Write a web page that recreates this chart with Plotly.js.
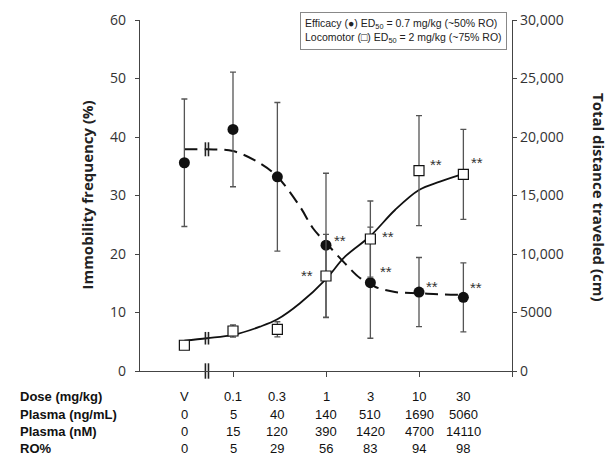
<!DOCTYPE html>
<html>
<head>
<meta charset="utf-8">
<script src="https://cdn.plot.ly/plotly-3.0.1.min.js"></script>
<style>html,body{margin:0;padding:0;background:#fff;}#chart{width:609px;height:460px;}</style>
</head>
<body>
<div id="chart"></div>
<script>
// ---- data ----
var doseLabels = ['V', '0.1', '0.3', '1', '3', '10', '30'];
var dosePos = [0.03, 0.1, 0.3, 1, 3, 10, 30];          // V plotted left of the axis break
var plasmaNgMl = ['0', '5', '40', '140', '510', '1690', '5060'];
var plasmaNM = ['0', '15', '120', '390', '1420', '4700', '14110'];
var roPct = ['0', '5', '29', '56', '83', '94', '98'];

var effMean = [35.6, 41.3, 33.2, 21.5, 15.1, 13.5, 12.6];   // immobility %
var effErr = [10.9, 9.8, 12.7, 12.3, 9.5, 5.9, 5.9];
var effSig = ['', '', '', '**', '**', '**', '**'];

var locoMean = [2200, 3420, 3560, 8120, 11280, 17120, 16810]; // distance cm
var locoErr = [250, 520, 650, 3560, 3250, 4700, 3850];
var locoSig = ['', '', '', '**', '**', '**', '**'];

var effFitDose = [0.03, 0.0525, 0.1, 0.195, 0.3, 0.525, 0.724, 1, 1.6, 2.32, 3, 3.37, 5.52, 10, 16.8, 30];
var effFit = [37.9, 37.9, 37.6, 35.5, 33.2, 28.1, 24.4, 21.9, 18.4, 15.9, 15.0, 14.4, 13.5, 13.3, 13.1, 13.0];
var locoFitDose = [0.03, 0.0525, 0.1, 0.195, 0.3, 0.525, 1, 1.6, 3, 5.52, 10, 16.8, 30];
var locoFit = [2590, 2800, 3080, 3790, 4420, 5790, 7860, 9770, 11540, 13760, 15470, 16180, 16840];

var breakDose = [0.0505, 0.0545];
var rightTicks = [0, 5000, 10000, 15000, 20000, 25000, 30000];
var rightTickText = ['0', '5000', '10,000', '15,000', '20,000', '25,000', '30,000'];

// ---- traces ----
var axisColor = '#444';
var traces = [
  {x: effFitDose, y: effFit, type: 'scatter', mode: 'lines', yaxis: 'y',
   line: {color: '#111', width: 2, dash: '13px,7px', shape: 'spline', smoothing: 1}, hoverinfo: 'skip'},
  {x: locoFitDose, y: locoFit, type: 'scatter', mode: 'lines', yaxis: 'y2',
   line: {color: '#111', width: 1.8, shape: 'spline', smoothing: 1}, hoverinfo: 'skip'},
  {x: dosePos, y: effMean, type: 'scatter', mode: 'markers', yaxis: 'y',
   error_y: {type: 'data', array: effErr, visible: true, color: '#555', thickness: 1.3, width: 3},
   marker: {symbol: 'circle', size: 11, color: '#111'}},
  {x: dosePos, y: locoMean, type: 'scatter', mode: 'markers', yaxis: 'y2',
   error_y: {type: 'data', array: locoErr, visible: true, color: '#555', thickness: 1.3, width: 3},
   marker: {symbol: 'square', size: 10, color: '#fff', line: {color: '#111', width: 1.2}}},
  // axis-break marks
  {x: breakDose, y: [0, 0], type: 'scatter', mode: 'markers', yaxis: 'y', cliponaxis: false,
   marker: {symbol: 'line-ns-open', size: 11, color: '#222', line: {color: '#222', width: 1.6}}},
  {x: breakDose, y: [effFit[1], effFit[1]], type: 'scatter', mode: 'markers', yaxis: 'y',
   marker: {symbol: 'line-ns-open', size: 10, color: '#222', line: {color: '#222', width: 1.6}}},
  {x: breakDose, y: [locoFit[1], locoFit[1]], type: 'scatter', mode: 'markers', yaxis: 'y2',
   marker: {symbol: 'line-ns-open', size: 9, color: '#222', line: {color: '#222', width: 1.6}}}
];

// ---- annotations ----
var ann = [];
var tableFont = {family: 'Liberation Sans, Arial, sans-serif', size: 13, color: '#111'};
var rows = [
  {label: 'Dose (mg/kg)', vals: doseLabels, y: -0.074},
  {label: 'Plasma (ng/mL)', vals: plasmaNgMl, y: -0.124},
  {label: 'Plasma (nM)', vals: plasmaNM, y: -0.173},
  {label: 'RO%', vals: roPct, y: -0.222}
];
rows.forEach(function (r) {
  ann.push({xref: 'paper', yref: 'paper', x: -0.329, y: r.y, xanchor: 'left', yanchor: 'middle',
            text: '<b>' + r.label + '</b>', showarrow: false, font: tableFont});
  r.vals.forEach(function (v, i) {
    ann.push({xref: 'x', yref: 'paper', x: Math.log10(dosePos[i]), y: r.y, xanchor: 'center', yanchor: 'middle',
              text: v, showarrow: false, font: tableFont});
  });
});

var starFont = {family: 'Liberation Sans, Arial, sans-serif', size: 15, color: '#333'};
var effShift = [[0, 0], [0, 0], [0, 0], [14, 5], [16, 11], [13, 6], [13, 10]];
var locoShift = [[0, 0], [0, 0], [0, 0], [-19, 1], [18, 3], [17, 6], [14, 12]];
effSig.forEach(function (s, i) {
  if (!s) return;
  ann.push({xref: 'x', yref: 'y', x: Math.log10(dosePos[i]), y: effMean[i], text: s, showarrow: false,
            xshift: effShift[i][0], yshift: effShift[i][1], font: starFont});
});
locoSig.forEach(function (s, i) {
  if (!s) return;
  ann.push({xref: 'x', yref: 'y2', x: Math.log10(dosePos[i]), y: locoMean[i], text: s, showarrow: false,
            xshift: locoShift[i][0], yshift: locoShift[i][1], font: starFont});
});

ann.push({xref: 'paper', yref: 'paper', x: 0.431, y: 1.022, xanchor: 'left', yanchor: 'top', align: 'left',
          text: 'Efficacy (\u25CF) ED<sub>50</sub> = 0.7 mg/kg (~50% RO)<br>Locomotor (\u25A1) ED<sub>50</sub> = 2 mg/kg (~75% RO)',
          showarrow: false, bordercolor: '#888', borderwidth: 1, borderpad: 4, bgcolor: '#fff',
          font: {family: 'Liberation Sans, Arial, sans-serif', size: 10.5, color: '#222'}});

var titleFont = {family: 'Open Sans, sans-serif', size: 15, color: '#222', weight: 'bold'};
ann.push({xref: 'paper', yref: 'paper', x: -0.145, y: 0.50, textangle: -90, xanchor: 'center', yanchor: 'middle',
          text: '<b>Immobility frequency (%)</b>', showarrow: false, font: titleFont});
ann.push({xref: 'paper', yref: 'paper', x: 1.232, y: 0.495, textangle: 90, xanchor: 'center', yanchor: 'middle',
          text: '<b>Total distance traveled (cm)</b>', showarrow: false, font: titleFont});

var tickFont = {family: 'Open Sans, sans-serif', size: 14, color: '#333'};
var layout = {
  width: 609, height: 460,
  margin: {l: 140, r: 97, t: 20, b: 89},
  paper_bgcolor: '#fff', plot_bgcolor: '#fff',
  showlegend: false,
  xaxis: {type: 'log', range: [-2, 2], tickvals: [0.1, 1, 10, 100], showticklabels: false,
          ticks: 'outside', ticklen: 5, tickcolor: axisColor, showline: true, linecolor: axisColor, linewidth: 1.2,
          showgrid: false, zeroline: false},
  yaxis: {range: [0, 60], tickvals: [0, 10, 20, 30, 40, 50, 60], ticks: 'outside', ticklen: 4, tickcolor: axisColor,
          showline: true, linecolor: axisColor, linewidth: 1.2, showgrid: false, zeroline: false, tickfont: tickFont,
          ticklabelstandoff: 6},
  yaxis2: {range: [0, 30000], overlaying: 'y', side: 'right', tickvals: rightTicks, ticktext: rightTickText,
           ticks: 'outside', ticklen: 4, tickcolor: axisColor, showline: true, linecolor: axisColor, linewidth: 1.2,
           showgrid: false, zeroline: false, tickfont: tickFont},
  annotations: ann
};

Plotly.newPlot('chart', traces, layout, {displayModeBar: false, staticPlot: true});
</script>
</body>
</html>
